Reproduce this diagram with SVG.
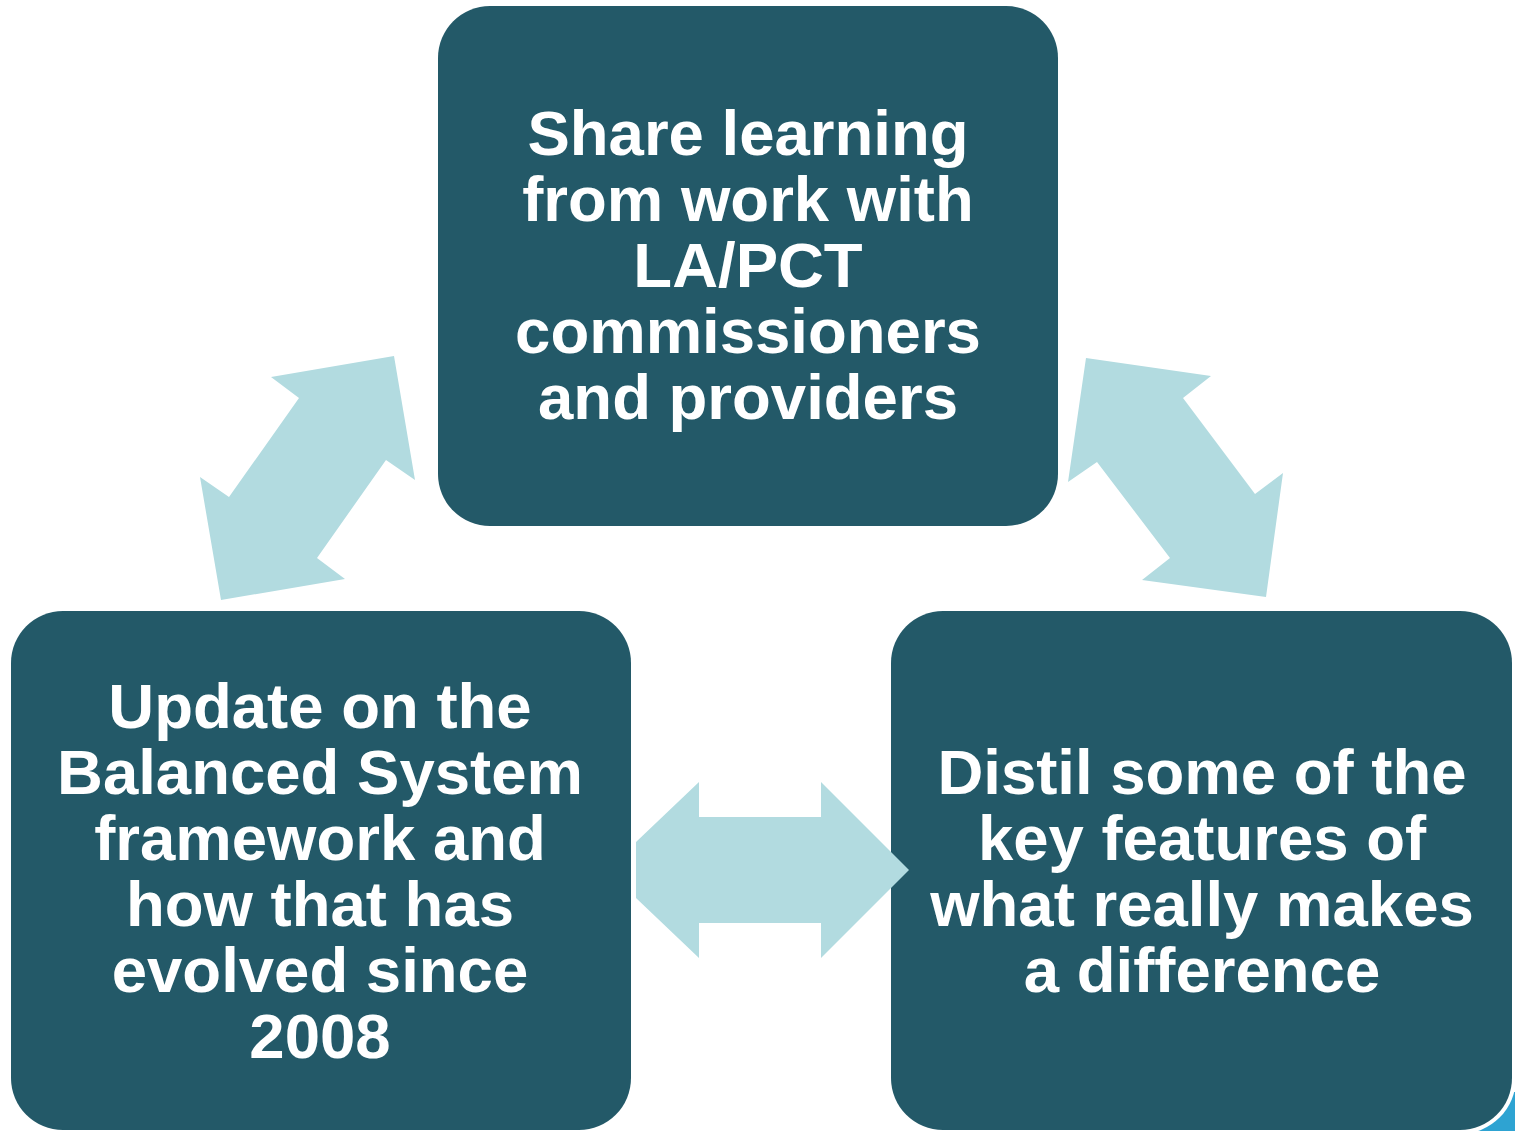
<svg xmlns="http://www.w3.org/2000/svg" width="1515" height="1131" viewBox="0 0 1515 1131">
<style>
.box{fill:#235968}
.arrow{fill:#b2dbe0}
.t{font-family:"Liberation Sans",Arial,sans-serif;font-weight:bold;font-size:63.5px;fill:#ffffff;text-anchor:middle}
</style>
<rect x="0" y="0" width="1515" height="1131" fill="#ffffff"/>
<g id="connectors">
<polygon class="arrow" points="394,356 415,480 386,460 317,558 345,579 221,600 200,477 229,497 299,398 271,377"/>
<polygon class="arrow" points="1086,358 1211,376 1183,398 1255,494 1283,473 1266,597 1142,580 1170,558 1097,462 1068,482"/>
</g>
<g id="node-top">
<rect class="box" x="438" y="6" width="620" height="520" rx="52" ry="52"/>
<text class="t"><tspan x="748" y="155">Share learning</tspan><tspan x="748" y="221">from work with</tspan><tspan x="748" y="287">LA/PCT</tspan><tspan x="748" y="353">commissioners</tspan><tspan x="748" y="419">and providers</tspan></text>
</g>
<g id="node-left">
<rect class="box" x="11" y="611" width="620" height="519" rx="52" ry="52"/>
<text class="t"><tspan x="320" y="728">Update on the</tspan><tspan x="320" y="794">Balanced System</tspan><tspan x="320" y="860">framework and</tspan><tspan x="320" y="926">how that has</tspan><tspan x="320" y="992">evolved since</tspan><tspan x="320" y="1058">2008</tspan></text>
</g>
<g id="node-right">
<rect x="1470" y="1092" width="45" height="39" fill="#2ea3d2"/>
<rect x="887" y="607" width="629" height="527" rx="56" ry="56" fill="#ffffff"/>
<rect class="box" x="891" y="611" width="621" height="519" rx="52" ry="52"/>
<text class="t"><tspan x="1202" y="794">Distil some of the</tspan><tspan x="1202" y="860">key features of</tspan><tspan x="1202" y="926">what really makes</tspan><tspan x="1202" y="992">a difference</tspan></text>
</g>
<g id="connector-h">
<polygon class="arrow" points="636,842 699,782 699,817 821,817 821,782 909,870 821,958 821,923 699,923 699,958 636,898"/>
</g>
</svg>
